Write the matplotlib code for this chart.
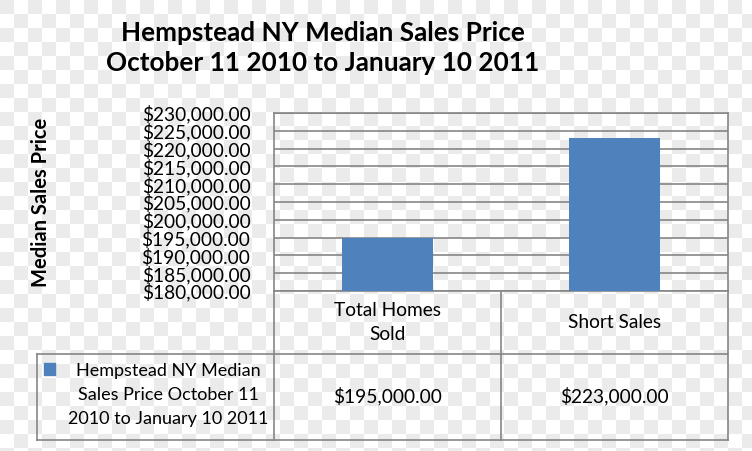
import numpy as np
import matplotlib
matplotlib.use("Agg")
import matplotlib.pyplot as plt
from matplotlib.patches import Rectangle

categories = ["Total Homes\nSold", "Short Sales"]
values = [195000, 223000]
value_labels = ["$195,000.00", "$223,000.00"]
series_name = "Hempstead NY Median\nSales Price October 11\n2010 to January 10 2011"
title = "Hempstead NY Median Sales Price\nOctober 11 2010 to January 10 2011"
ylabel = "Median Sales Price"
yticks = list(range(180000, 230001, 5000))

FONT = ["Lato", "DejaVu Sans"]
plt.rcParams['font.family'] = FONT

W, H = 752, 451
fig = plt.figure(figsize=(W / 100, H / 100), dpi=100)
fig.patch.set_facecolor("white")

# background overlay in pixel coordinates
bg = fig.add_axes([0, 0, 1, 1], zorder=0)
bg.axis("off")
sq = 14
cb = np.indices((H // sq + 2, W // sq + 2)).sum(axis=0) % 2
bg.imshow(np.where(cb == 0, 0.92, 1.0), cmap="gray", vmin=0, vmax=1,
          extent=(0, (W // sq + 2) * sq, (H // sq + 2) * sq, 0),
          interpolation="nearest", aspect="auto")
bg.set_xlim(0, W)
bg.set_ylim(H, 0)

L, R, T, B = 274, 728, 113, 291
ax = fig.add_axes([L / W, 1 - B / H, (R - L) / W, (B - T) / H], zorder=2)
ax.set_facecolor("none")
x = np.arange(len(categories))
ax.bar(x, values, width=0.4, color="#4f81bd", zorder=3)
ax.set_xlim(-0.5, len(categories) - 0.5)
ax.set_ylim(yticks[0], yticks[-1])
ax.set_yticks(yticks)
ax.set_yticklabels([f"${v:,.2f}" for v in yticks], fontsize=13.8)
ax.tick_params(axis="y", length=0, pad=17)
ax.set_xticks([])
ax.grid(axis="y", color="#868686", linewidth=1.2, zorder=1)
for s in ax.spines.values():
    s.set_color("#868686")
    s.set_linewidth(1.2)

fig.text(41 / W, 1 - 202 / H, ylabel, rotation=90, fontsize=14.5,
         fontweight="bold", ha="center", va="center")
fig.text(323 / W, 1 - 48 / H, title, fontsize=18.8, fontweight="bold",
         ha="center", va="center", linespacing=1.3)

# data table
lc = "#868686"
xs = [L, (L + R) / 2, R]
bg.plot([L, R], [354, 354], color=lc, lw=1.2)
bg.plot([37, R], [440, 440], color=lc, lw=1.2)
bg.plot([37, 37], [354, 440], color=lc, lw=1.2)
bg.plot([37, L], [354, 354], color=lc, lw=1.2)
for xv in xs:
    bg.plot([xv, xv], [B, 440], color=lc, lw=1.2)
for i, c in enumerate(categories):
    cx = (xs[i] + xs[i + 1]) / 2
    bg.text(cx, 322, c, ha="center", va="center", fontsize=13.8, linespacing=1.5)
    bg.text(cx, 396, value_labels[i], ha="center", va="center", fontsize=13.8)
bg.add_patch(Rectangle((44, 363), 11, 12, color="#4f81bd"))
bg.text(168, 395, series_name, ha="center", va="center", fontsize=13, linespacing=1.6)

fig.savefig("out.png", dpi=100)
